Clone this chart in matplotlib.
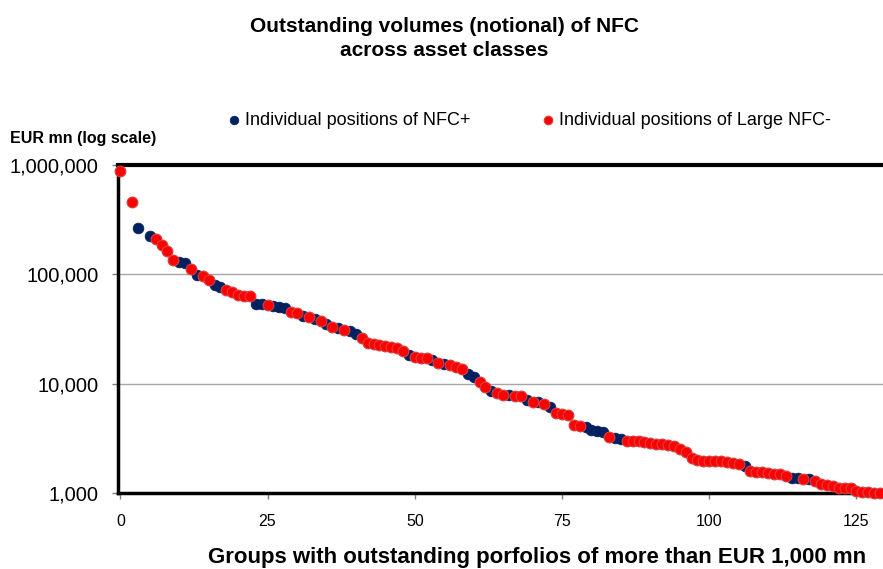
import numpy as np
import matplotlib as mpl
mpl.use('Agg')
import matplotlib.pyplot as plt
from matplotlib.ticker import FuncFormatter, FixedLocator, NullLocator

plt.rcParams['font.family'] = ['Liberation Sans', 'DejaVu Sans']

# ranked groups, value in EUR mn
nfc_plus_rank = [3, 5, 10, 11, 13, 16, 17, 23, 24, 26, 27, 28, 31, 33, 35, 37, 39, 40,
                 49, 53, 55, 59, 60, 63, 66, 69, 71, 73, 79, 80, 81, 82, 84, 85,
                 106, 114, 115, 117]
nfc_plus_val = [265000, 222000, 130000, 127000, 98000, 80000, 77000, 54000, 53000, 51000,
                50000, 49000, 42000, 39000, 35000, 32000, 30000, 28500,
                18300, 16500, 15200, 12200, 11500, 8600, 7900, 7100, 6800, 6100,
                4000, 3800, 3700, 3600, 3200, 3150,
                1750, 1380, 1370, 1350]

large_nfc_minus_rank = [0, 2, 6, 7, 8, 9, 12, 14, 15, 18, 19, 20, 21, 22, 25, 29, 30, 32,
                        34, 36, 38, 41, 42, 43, 44, 45, 46, 47, 48, 50, 51, 52, 54, 56,
                        57, 58, 61, 62, 64, 65, 67, 68, 70, 72, 74, 75, 76, 77, 78, 83,
                        86, 87, 88, 89, 90, 91, 92, 93, 94, 95, 96, 97, 98, 99, 100, 101,
                        102, 103, 104, 105, 107, 108, 109, 110, 111, 112, 113, 116, 118,
                        119, 120, 121, 122, 123, 124, 125, 126, 127, 128, 129]
large_nfc_minus_val = [880000, 455000, 212000, 185000, 163000, 134000, 112000, 96000, 88000,
                       72000, 69000, 65000, 64000, 63000, 52000, 45000, 44000, 40500,
                       37500, 33000, 31000, 26000, 23500, 23000, 22500, 22000, 21500, 21000,
                       20000, 17500, 17300, 17100, 15400, 14800, 14200, 13600, 10400, 9300,
                       8200, 7900, 7700, 7700, 6800, 6500, 5400, 5300, 5200, 4200, 4100,
                       3250, 3000, 3000, 2980, 2950, 2850, 2800, 2800, 2750, 2700, 2500,
                       2350, 2100, 2000, 1980, 1960, 1960, 1950, 1930, 1900, 1850, 1600,
                       1550, 1550, 1520, 1500, 1480, 1420, 1330, 1280, 1200, 1180, 1150,
                       1120, 1120, 1100, 1050, 1030, 1020, 1000, 990]

x_ticks = [0, 25, 50, 75, 100, 125]
y_ticks = [1000, 10000, 100000, 1000000]

fig = plt.figure(figsize=(8.83, 5.69), dpi=100)
ax = fig.add_axes([0.1336, 0.1336, 0.8664, 0.5764])

blue = '#002060'
red = '#FF0000'

ax.scatter(nfc_plus_rank, nfc_plus_val, s=60, color=blue, edgecolors=blue, linewidths=0.5,
           zorder=3, clip_on=False, label='Individual positions of NFC+')
ax.scatter(large_nfc_minus_rank, large_nfc_minus_val, s=60, color=red, edgecolors='#D84040',
           linewidths=0.8, zorder=4, clip_on=False, label='Individual positions of Large NFC-')

ax.set_yscale('log')
ax.set_ylim(1000, 1000000)
ax.set_xlim(-0.4, 129.5)
ax.yaxis.set_major_locator(FixedLocator(y_ticks))
ax.yaxis.set_minor_locator(NullLocator())
ax.yaxis.set_major_formatter(FuncFormatter(lambda v, p: f'{int(round(v)):,}'))
ax.set_xticks(x_ticks)
ax.grid(axis='y', color='#A6A6A6', linewidth=1.0, zorder=0)
ax.set_axisbelow(True)

for lab in ax.get_yticklabels():
    lab.set_fontsize(14.5)
for lab in ax.get_xticklabels():
    lab.set_fontsize(11.5)
ax.tick_params(axis='both', length=4, color='#808080', width=1)
ax.tick_params(axis='y', pad=10)
ax.tick_params(axis='x', pad=11)

ax.spines['top'].set_linewidth(3.0)
ax.spines['left'].set_linewidth(2.5)
ax.spines['bottom'].set_linewidth(2.5)
ax.spines['right'].set_visible(False)
for s in ['top', 'left', 'bottom']:
    ax.spines[s].set_color('black')

fig.text(0.503, 0.932, 'Outstanding volumes (notional) of NFC\nacross asset classes',
         ha='center', va='center', fontsize=15, fontweight='bold', linespacing=1.3)
fig.text(0.011, 0.757, 'EUR mn (log scale)', ha='left', va='center', fontsize=11.5,
         fontweight='bold')
fig.text(0.608, 0.021, 'Groups with outstanding porfolios of more than EUR 1,000 mn',
         ha='center', va='center', fontsize=16, fontweight='bold')

fig.legend(loc='center left', bbox_to_anchor=(0.257, 0.789), ncol=2, frameon=False,
           fontsize=13, markerscale=0.8, handlelength=0.8, handletextpad=0.2,
           columnspacing=3.9, borderaxespad=0, borderpad=0)

fig.savefig('out.png', dpi=100)
